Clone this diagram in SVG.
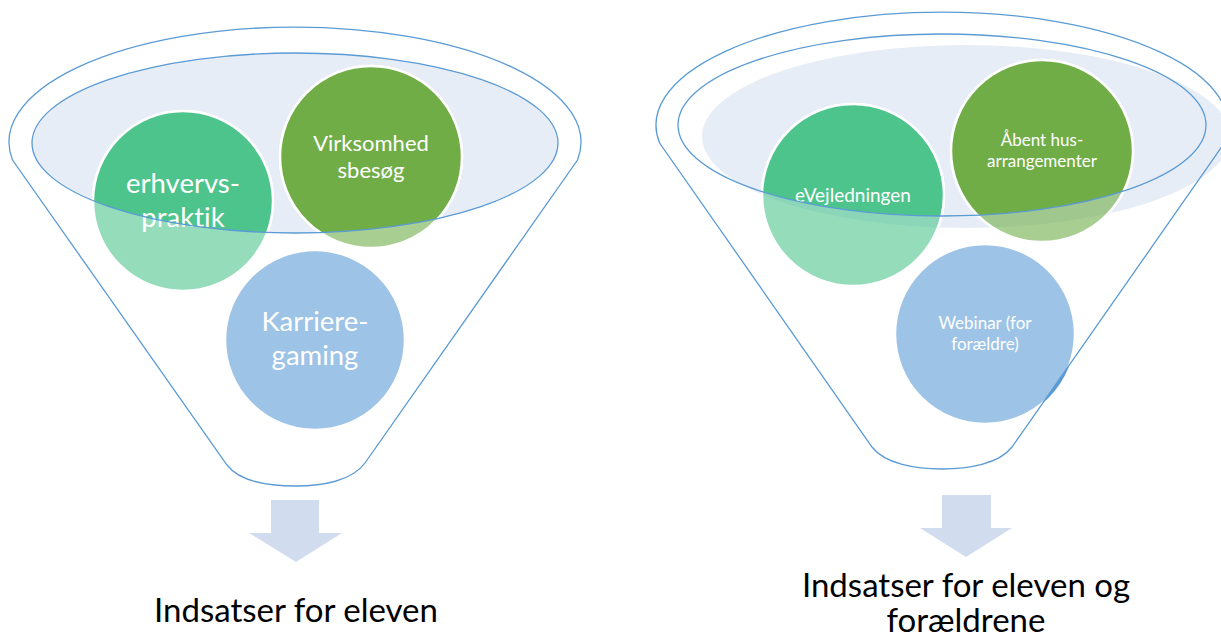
<svg xmlns="http://www.w3.org/2000/svg" width="1221" height="636" viewBox="0 0 1221 636">
<style>
.funnel{fill:none;stroke:#5B9BD5;stroke-width:1.3}
.rim{fill:none;stroke:#5B9BD5;stroke-width:1.3}
.circ{stroke:#FFFFFF;stroke-width:2.5}
.lite{fill-opacity:0.6;stroke-opacity:1}
.g1{fill:#4EC48D}
.g2{fill:#70AD47}
.b1{fill:#5B9BD5}
text{font-variant-ligatures:none;font-feature-settings:"liga" 0}
.lbl{font-family:Lato,"Liberation Sans",sans-serif;fill:#FFFFFF;text-anchor:middle}
.title{font-family:Lato,"Liberation Sans",sans-serif;fill:#000000;text-anchor:middle;font-size:33px}
.arrow{fill:#D1DDEF}
</style>
<defs>
<clipPath id="openL"><ellipse cx="295" cy="143" rx="263" ry="90"/></clipPath>
<clipPath id="openR"><ellipse cx="942" cy="125" rx="264" ry="91"/></clipPath>
<clipPath id="outR"><path clip-rule="evenodd" d="M0,0H1221V636H0Z M659.6,143 A286,113 0 1 1 1224.4,143 L1012,447 C999,464 968,469 942,469 C916,469 885,464 872,447 Z"/></clipPath>
</defs>

<g id="funnel-left-back">
<ellipse cx="295" cy="143" rx="263" ry="90" fill="#E7EDF7"/>
</g>
<g id="funnel-right-back">
<ellipse cx="966" cy="136.5" rx="264" ry="91.5" fill="#E7EDF7"/>
</g>

<g id="node-erhvervspraktik">
<circle class="circ g1 lite" cx="183" cy="201" r="90"/>
<circle class="circ g1" cx="183" cy="201" r="90" clip-path="url(#openL)"/>
<text class="lbl" font-size="27.5" x="183" y="193">erhvervs-</text>
<text class="lbl" font-size="27.5" x="183" y="227">praktik</text>
</g>
<g id="node-virksomhedsbesoeg">
<circle class="circ g2 lite" cx="371" cy="157" r="91"/>
<circle class="circ g2" cx="371" cy="157" r="91" clip-path="url(#openL)"/>
<text class="lbl" font-size="22" x="371" y="151">Virksomhed</text>
<text class="lbl" font-size="22" x="371" y="178">sbesøg</text>
</g>
<g id="node-karrieregaming">
<circle class="circ b1 lite" cx="315" cy="340" r="90"/>
<text class="lbl" font-size="27.5" x="315" y="331">Karriere-</text>
<text class="lbl" font-size="27.5" x="315" y="365">gaming</text>
</g>

<g id="node-evejledningen">
<circle class="circ g1 lite" cx="853" cy="195" r="91"/>
<circle class="circ g1" cx="853" cy="195" r="91" clip-path="url(#openR)"/>
<text class="lbl" font-size="19" x="853" y="202">eVejledningen</text>
</g>
<g id="node-aabent-hus">
<circle class="circ g2 lite" cx="1042" cy="151" r="91"/>
<circle class="circ g2" cx="1042" cy="151" r="91" clip-path="url(#openR)"/>
<text class="lbl" font-size="17" x="1042" y="146">Åbent hus-</text>
<text class="lbl" font-size="17" x="1042" y="167">arrangementer</text>
</g>
<g id="node-webinar">
<circle class="circ b1 lite" cx="985" cy="334" r="90"/>
<circle class="b1" cx="985" cy="334" r="90" clip-path="url(#outR)"/>
<text class="lbl" font-size="17" x="985" y="329">Webinar (for</text>
<text class="lbl" font-size="17" x="985" y="350">forældre)</text>
</g>

<g id="funnel-left">
<path class="funnel" d="M12.5,160 A286,115 0 1 1 577.5,160 L365,463 C352,481 322,486 296,486 C270,486 240,482 227,465 Z"/>
<ellipse class="rim" cx="295" cy="143" rx="263" ry="90"/>
</g>
<g id="funnel-right">
<path class="funnel" d="M659.6,143 A286,113 0 1 1 1224.4,143 L1012,447 C999,464 968,469 942,469 C916,469 885,464 872,447 Z"/>
<ellipse class="rim" cx="942" cy="125" rx="264" ry="91"/>
</g>

<g id="connectors">
<polygon class="arrow" points="271,500 319,500 319,533 342,533 296,562 249,533 271,533"/>
<polygon class="arrow" points="942,495 991,495 991,528 1012,528 966,557 920,528 942,528"/>
</g>

<g id="title-left">
<text class="title" x="296" y="622">Indsatser for eleven</text>
</g>
<g id="title-right">
<text class="title" x="966" y="597">Indsatser for eleven og</text>
<text class="title" x="966" y="632">forældrene</text>
</g>
</svg>
